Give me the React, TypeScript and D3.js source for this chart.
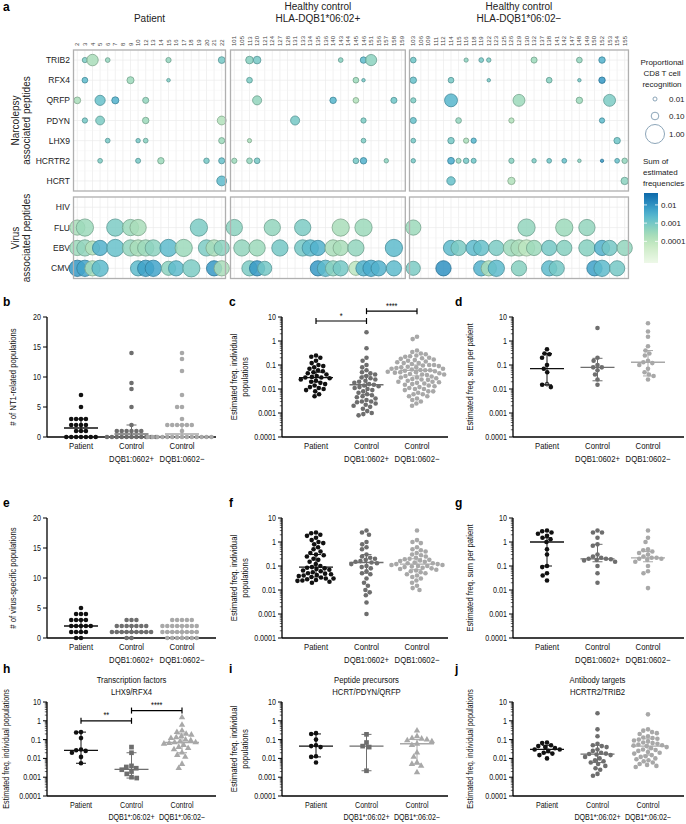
import React from 'react';
import * as d3 from 'd3';

const FONT = "'Liberation Sans', Arial, Helvetica, sans-serif";

// ---------- panel a data ----------
const peptidesNT1 = ['TRIB2', 'RFX4', 'QRFP', 'PDYN', 'LHX9', 'HCRTR2', 'HCRT'];
const peptidesVirus = ['HIV', 'FLU', 'EBV', 'CMV'];
const patientIds = ['2', '3', '4', '5', '6', '7', '8', '9', '10', '12', '13', '14', '15', '16', '17', '18', '19', '20', '21', '22'];
const hcPosIds = ['101', '105', '113', '120', '121', '124', '127', '128', '131', '133', '134', '135', '136', '140', '143', '144', '145', '146', '151', '156', '157', '158', '159'];
const hcNegIds = ['103', '106', '109', '111', '112', '114', '115', '116', '118', '119', '122', '123', '125', '126', '129', '130', '132', '137', '138', '141', '142', '147', '148', '149', '150', '152', '153', '154', '155'];

type Bubble = [string, string, number, number]; // [subject id, peptide, proportional recognition, sum of estimated frequencies]
const patientBubbles: Bubble[] = [
  ['3', 'TRIB2', 0.03, 8e-4], ['4', 'TRIB2', 0.3, 2e-4], ['6', 'TRIB2', 0.02, 4e-4], ['15', 'TRIB2', 0.03, 4e-4], ['22', 'TRIB2', 0.07, 1e-3],
  ['3', 'RFX4', 0.04, 2e-3], ['9', 'RFX4', 0.08, 3e-4], ['15', 'RFX4', 0.005, 8e-4],
  ['2', 'QRFP', 0.07, 2e-4], ['5', 'QRFP', 0.22, 1.5e-3], ['7', 'QRFP', 0.08, 3e-3], ['12', 'QRFP', 0.05, 4e-4],
  ['3', 'PDYN', 0.03, 1e-3], ['5', 'PDYN', 0.15, 8e-4], ['12', 'PDYN', 0.06, 3e-4], ['22', 'PDYN', 0.15, 1.5e-4],
  ['6', 'LHX9', 0.02, 1e-3], ['10', 'LHX9', 0.015, 1e-3], ['12', 'LHX9', 0.02, 6e-4], ['22', 'LHX9', 0.05, 3e-4],
  ['5', 'HCRTR2', 0.02, 8e-4], ['10', 'HCRTR2', 0.025, 1e-3], ['14', 'HCRTR2', 0.06, 3e-4], ['20', 'HCRTR2', 0.035, 1e-3], ['22', 'HCRTR2', 0.05, 1.5e-3],
  ['22', 'HCRT', 0.2, 2e-3],
  ['2', 'FLU', 0.6, 2e-4], ['3', 'FLU', 0.8, 3e-4], ['7', 'FLU', 0.8, 8e-4], ['9', 'FLU', 0.7, 3e-4], ['10', 'FLU', 0.7, 2e-4], ['19', 'FLU', 0.8, 8e-4],
  ['2', 'EBV', 0.6, 3e-4], ['3', 'EBV', 0.7, 4e-4], ['4', 'EBV', 0.5, 1.5e-4], ['5', 'EBV', 0.6, 3e-3], ['7', 'EBV', 0.8, 1.5e-3], ['9', 'EBV', 0.7, 4e-4],
  ['10', 'EBV', 0.7, 2e-4], ['12', 'EBV', 0.7, 3e-4], ['13', 'EBV', 0.7, 5e-4], ['15', 'EBV', 0.8, 2e-3], ['17', 'EBV', 0.8, 3e-4], ['20', 'EBV', 0.7, 8e-4], ['21', 'EBV', 0.7, 2e-4], ['22', 'EBV', 0.6, 5e-4],
  ['2', 'CMV', 0.7, 8e-3], ['3', 'CMV', 0.7, 5e-3], ['4', 'CMV', 0.6, 2e-4], ['5', 'CMV', 0.7, 2e-3], ['10', 'CMV', 0.6, 2e-3], ['12', 'CMV', 0.7, 6e-3],
  ['13', 'CMV', 0.7, 5e-3], ['15', 'CMV', 0.5, 5e-4], ['16', 'CMV', 0.6, 2e-3], ['18', 'CMV', 0.8, 8e-4], ['21', 'CMV', 0.6, 8e-3], ['22', 'CMV', 0.6, 2e-4],
];
const hcPosBubbles: Bubble[] = [
  ['113', 'TRIB2', 0.1, 6e-4], ['120', 'TRIB2', 0.1, 1e-3], ['143', 'TRIB2', 0.02, 6e-4], ['146', 'TRIB2', 0.06, 2e-3], ['151', 'TRIB2', 0.28, 5e-4],
  ['113', 'RFX4', 0.04, 8e-4], ['145', 'RFX4', 0.04, 3e-4], ['146', 'RFX4', 0.004, 1e-3],
  ['120', 'QRFP', 0.16, 4e-4], ['140', 'QRFP', 0.06, 2.5e-3], ['145', 'QRFP', 0.04, 1.5e-4], ['158', 'QRFP', 0.05, 1.2e-3],
  ['131', 'PDYN', 0.16, 1e-3], ['146', 'PDYN', 0.03, 8e-4],
  ['113', 'LHX9', 0.012, 2e-4], ['146', 'LHX9', 0.02, 8e-4],
  ['101', 'HCRTR2', 0.03, 3e-4], ['113', 'HCRTR2', 0.04, 4e-4], ['120', 'HCRTR2', 0.04, 1e-3], ['145', 'HCRTR2', 0.04, 1e-3], ['146', 'HCRTR2', 0.06, 3e-3], ['157', 'HCRTR2', 0.015, 5e-4],
  ['101', 'FLU', 0.7, 5e-4], ['124', 'FLU', 0.7, 4e-4], ['133', 'FLU', 0.7, 8e-4], ['143', 'FLU', 0.8, 2e-4], ['146', 'FLU', 0.8, 3e-4],
  ['105', 'EBV', 0.7, 4e-4], ['120', 'EBV', 0.7, 3e-4], ['127', 'EBV', 0.7, 1e-3], ['133', 'EBV', 0.7, 1e-3], ['134', 'EBV', 0.7, 2e-3], ['135', 'EBV', 0.6, 3e-3],
  ['140', 'EBV', 0.7, 2e-4], ['143', 'EBV', 0.6, 2e-4], ['145', 'EBV', 0.7, 4e-4], ['158', 'EBV', 0.8, 2e-3],
  ['113', 'CMV', 0.6, 8e-4], ['120', 'CMV', 0.6, 8e-3], ['121', 'CMV', 0.5, 1e-3], ['135', 'CMV', 0.6, 8e-3], ['136', 'CMV', 0.7, 2e-3], ['140', 'CMV', 0.6, 5e-4],
  ['143', 'CMV', 0.6, 1e-3], ['145', 'CMV', 0.5, 1e-4], ['146', 'CMV', 0.6, 3e-3], ['151', 'CMV', 0.7, 4e-3], ['156', 'CMV', 0.6, 3e-3], ['158', 'CMV', 0.6, 2e-3],
];
const hcNegBubbles: Bubble[] = [
  ['103', 'TRIB2', 0.04, 1.2e-3], ['116', 'TRIB2', 0.012, 5e-4], ['119', 'TRIB2', 0.02, 1e-3], ['122', 'TRIB2', 0.015, 8e-4], ['132', 'TRIB2', 0.05, 3e-4], ['148', 'TRIB2', 0.04, 4e-4], ['152', 'TRIB2', 0.06, 3e-3],
  ['103', 'RFX4', 0.06, 1.5e-3], ['114', 'RFX4', 0.04, 1e-3], ['122', 'RFX4', 0.004, 1e-3], ['138', 'RFX4', 0.04, 6e-4], ['148', 'RFX4', 0.004, 1e-3], ['152', 'RFX4', 0.06, 8e-3],
  ['103', 'QRFP', 0.03, 8e-4], ['114', 'QRFP', 0.4, 2.5e-3], ['129', 'QRFP', 0.33, 3e-4], ['148', 'QRFP', 0.06, 3e-4], ['153', 'QRFP', 0.33, 8e-4],
  ['103', 'PDYN', 0.05, 1.5e-3], ['115', 'PDYN', 0.04, 4e-4], ['126', 'PDYN', 0.03, 1.5e-4], ['152', 'PDYN', 0.03, 2e-3],
  ['103', 'LHX9', 0.02, 1e-3], ['114', 'LHX9', 0.06, 1e-3], ['116', 'LHX9', 0.03, 2e-4], ['118', 'LHX9', 0.03, 2.5e-3], ['154', 'LHX9', 0.06, 1.2e-3],
  ['103', 'HCRTR2', 0.015, 1e-3], ['114', 'HCRTR2', 0.07, 4e-3], ['115', 'HCRTR2', 0.025, 4e-4], ['116', 'HCRTR2', 0.035, 1e-3], ['118', 'HCRTR2', 0.025, 1.2e-3],
  ['126', 'HCRTR2', 0.03, 6e-4], ['132', 'HCRTR2', 0.015, 8e-4], ['138', 'HCRTR2', 0.02, 1.2e-3], ['142', 'HCRTR2', 0.02, 1.5e-3], ['148', 'HCRTR2', 0.005, 6e-4],
  ['152', 'HCRTR2', 0.003, 8e-3], ['154', 'HCRTR2', 0.02, 1.5e-3], ['155', 'HCRTR2', 0.035, 4e-4],
  ['114', 'HCRT', 0.13, 1.5e-3], ['126', 'HCRT', 0.09, 1.5e-4], ['155', 'HCRT', 0.09, 5e-4],
  ['103', 'FLU', 0.6, 3e-4], ['130', 'FLU', 0.8, 4e-4], ['142', 'FLU', 0.8, 3e-4], ['149', 'FLU', 0.7, 4e-4],
  ['114', 'EBV', 0.6, 2e-3], ['115', 'EBV', 0.6, 8e-4], ['118', 'EBV', 0.6, 2e-3], ['119', 'EBV', 0.6, 1.5e-3], ['123', 'EBV', 0.6, 8e-4], ['126', 'EBV', 0.7, 3e-4],
  ['129', 'EBV', 0.7, 2e-4], ['130', 'EBV', 0.7, 1e-4], ['132', 'EBV', 0.6, 3e-4], ['138', 'EBV', 0.6, 1e-3], ['142', 'EBV', 0.6, 6e-4], ['149', 'EBV', 0.7, 6e-4],
  ['152', 'EBV', 0.6, 3e-3], ['153', 'EBV', 0.6, 1e-3], ['155', 'EBV', 0.6, 4e-4],
  ['103', 'CMV', 0.5, 8e-4], ['112', 'CMV', 0.6, 1e-2], ['119', 'CMV', 0.6, 3e-3], ['122', 'CMV', 0.6, 2e-4], ['123', 'CMV', 0.7, 2e-3], ['129', 'CMV', 0.6, 6e-4],
  ['138', 'CMV', 0.6, 2e-3], ['141', 'CMV', 0.6, 1e-3], ['150', 'CMV', 0.6, 6e-3], ['152', 'CMV', 0.7, 2e-3], ['154', 'CMV', 0.6, 1e-3],
];
const sizeLegend = [0.01, 0.1, 1.0];
const colorLegend = [0.01, 0.001, 0.0001];

// ---------- panels b-j data ----------
const groups = ['Patient', 'Control+', 'Control-'];
const catLabelsA = [['Patient'], ['Control', 'DQB1:0602+'], ['Control', 'DQB1:0602\u2212']];
const catLabelsB = [['Patient'], ['Control', 'DQB1*:06:02+'], ['Control', 'DQB1*:06:02\u2212']];
const countTicks = [0, 5, 10, 15, 20];
const logTicks = [0.0001, 0.001, 0.01, 0.1, 1, 10];

const bPatient = [7, 5, 3, 3, 3, 3, 2, 2, 2, 2, 1, 1, 1, 0, 0, 0, 0, 0, 0, 0];
const bCtrlPos = [14, 9, 8, 5, 2, 1, 1, 1, 1, 1, 1, 0, 0, 0, 0, 0, 0, 0, 0, 0, 0, 0];
const bCtrlNeg = [14, 13, 11, 7, 5, 5, 3, 2, 2, 2, 2, 2, 2, 1, 0, 0, 0, 0, 0, 0, 0, 0, 0, 0, 0, 0, 0, 0];
const bSummary = [[1.5, 1, 3], [0.5, 0, 2], [0.5, 0, 2]];

const cPatient = [0.25, 0.22, 0.2, 0.15, 0.12, 0.1, 0.09, 0.08, 0.07, 0.06, 0.055, 0.05, 0.045, 0.04, 0.035, 0.032, 0.03, 0.03, 0.028, 0.025, 0.022, 0.02, 0.018, 0.016, 0.014, 0.012, 0.011, 0.01, 0.009, 0.008, 0.006, 0.005];
const cCtrlPos = [2.3, 0.5, 0.2, 0.15, 0.1, 0.08, 0.06, 0.05, 0.045, 0.04, 0.035, 0.03, 0.028, 0.025, 0.022, 0.02, 0.018, 0.016, 0.015, 0.014, 0.013, 0.012, 0.011, 0.01, 0.009, 0.008, 0.007, 0.006, 0.0055, 0.005, 0.0045, 0.004, 0.0035, 0.003, 0.003, 0.0028, 0.0025, 0.0022, 0.002, 0.0018, 0.0015, 0.0012, 0.001, 0.0009, 0.0008];
const cCtrlNeg = [1.5, 1.2, 0.4, 0.35, 0.3, 0.28, 0.25, 0.23, 0.22, 0.2, 0.19, 0.18, 0.17, 0.16, 0.15, 0.14, 0.13, 0.12, 0.12, 0.11, 0.1, 0.1, 0.095, 0.09, 0.085, 0.08, 0.08, 0.075, 0.07, 0.07, 0.065, 0.062, 0.06, 0.06, 0.058, 0.055, 0.052, 0.05, 0.05, 0.048, 0.045, 0.042, 0.04, 0.04, 0.038, 0.035, 0.033, 0.03, 0.03, 0.028, 0.026, 0.025, 0.024, 0.022, 0.02, 0.02, 0.019, 0.018, 0.017, 0.016, 0.015, 0.014, 0.013, 0.012, 0.011, 0.01, 0.01, 0.009, 0.008, 0.008, 0.007, 0.006, 0.006, 0.005, 0.005, 0.004, 0.0035, 0.003, 0.0025, 0.002];
const cSummary = [[0.03, 0.02, 0.05], [0.015, 0.006, 0.035], [0.06, 0.035, 0.1]];

const dPatient = [0.45, 0.3, 0.28, 0.2, 0.1, 0.07, 0.05, 0.016, 0.015, 0.012];
const dPatientOpen = [0.016];
const dCtrlPos = [3.5, 0.2, 0.15, 0.1, 0.08, 0.08, 0.06, 0.04, 0.025, 0.015];
const dCtrlNeg = [5.5, 2.5, 1.5, 0.6, 0.4, 0.3, 0.25, 0.15, 0.13, 0.12, 0.1, 0.07, 0.05, 0.04, 0.035, 0.025];
const dSummary = [[0.07, 0.015, 0.3], [0.08, 0.022, 0.19], [0.13, 0.035, 0.4]];

const ePatient = [5, 4, 4, 4, 3, 3, 3, 3, 2, 2, 2, 2, 2, 1, 1, 1, 1, 0, 0];
const eCtrlPos = [3, 3, 3, 2, 2, 2, 2, 2, 2, 2, 1, 1, 1, 1, 1, 1, 1, 1, 1, 0, 0];
const eCtrlNeg = [3, 3, 3, 3, 3, 2, 2, 2, 2, 2, 2, 2, 2, 1, 1, 1, 1, 1, 1, 1, 1, 0, 0, 0, 0, 0, 0, 0];
const eSummary = [[2, 1, 3], [1, 1, 2], [1, 0, 2]];

const fPatient = [2.5, 2.3, 2.0, 1.8, 1.5, 1.2, 1.0, 0.9, 0.8, 0.6, 0.5, 0.4, 0.35, 0.3, 0.28, 0.25, 0.2, 0.18, 0.15, 0.12, 0.1, 0.09, 0.085, 0.08, 0.075, 0.07, 0.065, 0.06, 0.055, 0.05, 0.048, 0.045, 0.042, 0.04, 0.038, 0.035, 0.033, 0.03, 0.03, 0.028, 0.026, 0.025, 0.024, 0.022, 0.02];
const fCtrlPos = [3.0, 2.5, 2.0, 1.0, 0.8, 0.6, 0.5, 0.3, 0.25, 0.22, 0.2, 0.18, 0.16, 0.15, 0.14, 0.13, 0.12, 0.1, 0.09, 0.08, 0.06, 0.05, 0.045, 0.03, 0.02, 0.015, 0.01, 0.008, 0.006, 0.003, 0.001];
const fCtrlNeg = [3.0, 1.2, 1.0, 0.9, 0.6, 0.5, 0.45, 0.4, 0.35, 0.3, 0.28, 0.25, 0.22, 0.2, 0.19, 0.18, 0.17, 0.16, 0.15, 0.14, 0.13, 0.13, 0.12, 0.12, 0.11, 0.11, 0.1, 0.1, 0.095, 0.09, 0.085, 0.08, 0.075, 0.07, 0.065, 0.06, 0.055, 0.05, 0.045, 0.04, 0.035, 0.03, 0.025, 0.02, 0.015, 0.012, 0.01];
const fSummary = [[0.09, 0.035, 0.3], [0.14, 0.05, 0.3], [0.12, 0.07, 0.2]];

const gPatient = [3, 2.8, 2.5, 2.2, 1.8, 1.5, 1.3, 1.0, 0.5, 0.3, 0.1, 0.09, 0.05, 0.04, 0.025];
const gCtrlPos = [3, 2.5, 2.5, 1.5, 0.8, 0.7, 0.3, 0.25, 0.22, 0.2, 0.2, 0.19, 0.18, 0.17, 0.15, 0.1, 0.05, 0.02];
const gCtrlNeg = [3, 1.5, 1.0, 0.5, 0.45, 0.4, 0.35, 0.3, 0.25, 0.22, 0.22, 0.2, 0.2, 0.18, 0.15, 0.1, 0.06, 0.05, 0.012];
const gSummary = [[1.0, 0.1, 1.5], [0.2, 0.15, 0.8], [0.22, 0.15, 0.4]];

const hPatient = [0.25, 0.24, 0.12, 0.03, 0.027, 0.025, 0.02, 0.012, 0.0055];
const hCtrlPos = [0.04, 0.02, 0.004, 0.0035, 0.003, 0.0025, 0.002, 0.0015, 0.001, 0.0009];
const hCtrlNeg = [1.5, 0.6, 0.3, 0.25, 0.2, 0.18, 0.15, 0.13, 0.12, 0.1, 0.09, 0.08, 0.07, 0.07, 0.065, 0.06, 0.05, 0.04, 0.035, 0.03, 0.02, 0.015, 0.012, 0.005, 0.003];
const hSummary = [[0.027, 0.0055, 0.25], [0.0026, 0.0009, 0.02], [0.07, 0.02, 0.2]];

const iPatient = [0.22, 0.2, 0.1, 0.05, 0.045, 0.04, 0.013, 0.012, 0.006];
const iCtrlPos = [0.19, 0.07, 0.045, 0.04, 0.0022];
const iCtrlNeg = [0.3, 0.15, 0.12, 0.11, 0.1, 0.09, 0.08, 0.06, 0.05, 0.02, 0.012, 0.006, 0.005, 0.004, 0.0018];
const iSummary = [[0.045, 0.012, 0.2], [0.045, 0.0022, 0.19], [0.06, 0.005, 0.1]];

const jPatient = [0.07, 0.065, 0.05, 0.045, 0.04, 0.035, 0.03, 0.03, 0.025, 0.02, 0.018, 0.015, 0.01];
const jCtrlPos = [2.5, 0.35, 0.15, 0.06, 0.05, 0.045, 0.04, 0.03, 0.025, 0.02, 0.018, 0.017, 0.016, 0.015, 0.012, 0.01, 0.008, 0.007, 0.006, 0.005, 0.004, 0.003, 0.0025, 0.0015, 0.0012];
const jCtrlNeg = [2.2, 0.35, 0.3, 0.25, 0.22, 0.2, 0.15, 0.13, 0.12, 0.11, 0.1, 0.09, 0.08, 0.07, 0.065, 0.06, 0.055, 0.05, 0.048, 0.045, 0.04, 0.035, 0.03, 0.028, 0.025, 0.022, 0.02, 0.018, 0.015, 0.013, 0.012, 0.01, 0.009, 0.008, 0.007, 0.006, 0.005, 0.0045, 0.004, 0.0035];
const jSummary = [[0.03, 0.02, 0.05], [0.017, 0.006, 0.05], [0.045, 0.015, 0.11]];

const groupColors = ['#111111', '#6e6e6e', '#a8a8a8'];

// ---------- helpers ----------
function swarm(values: number[], y: (v: number) => number, cx: number, r: number) {
  const pts = values.map((v, i) => ({ v, i, y: y(v) })).sort((a, b) => a.y - b.y);
  const placed: { x: number; y: number; v: number }[] = [];
  const d = 2 * r + 0.3;
  for (const p of pts) {
    const cands = [0];
    for (const q of placed) {
      const dy = p.y - q.y;
      if (Math.abs(dy) < d) {
        const dx = Math.sqrt(d * d - dy * dy);
        cands.push(q.x - cx + dx, q.x - cx - dx);
      }
    }
    cands.sort((a, b) => Math.abs(a) - Math.abs(b) || a - b);
    let best = 0;
    for (const c of cands) {
      const x = cx + c;
      if (placed.every((q) => (q.x - x) ** 2 + (q.y - p.y) ** 2 >= d * d - 0.05)) { best = c; break; }
    }
    placed.push({ x: cx + best, y: p.y, v: p.v });
  }
  return placed;
}

// condensed text (the reference uses a narrow sans face)
function NT({ x, y, rotate = 0, anchor = 'start', size = 8, fill = '#111', children }: any) {
  return (
    <text transform={`translate(${x},${y})${rotate ? ` rotate(${rotate})` : ''} scale(0.86,1)`} textAnchor={anchor} fontSize={size} fill={fill}>{children}</text>
  );
}

type PanelSpec = {
  key: string;
  letter: string;
  letterX: number;
  ax: number; end: number; yTop: number; yBot: number; labY: number; labGap: number; labSize: number;
  log: boolean;
  data: number[][];
  summary: number[][];
  catLabels: string[][];
  yTitle: string[];
  yTitleX: number;
  yTitleSize?: number;
  shapes?: string[];
  open?: number[];
  title?: string[];
  brackets?: { a: number; b: number; v: number; label: string }[];
};

function symbolPath(shape: string, size: number) {
  const t = shape === 'square' ? d3.symbolSquare : shape === 'triangle' ? d3.symbolTriangle : d3.symbolCircle;
  return d3.symbol(t, size)()!;
}

function DotPanel({ s }: { s: PanelSpec }) {
  const y: any = s.log
    ? d3.scaleLog().domain([1e-4, 10]).range([s.yBot, s.yTop])
    : d3.scaleLinear().domain([0, 20]).range([s.yBot, s.yTop]);
  const x = d3.scalePoint<string>().domain(groups).range([s.ax + 34, s.ax + 135]);
  const ticks = s.log ? logTicks : countTicks;
  const minor: number[] = [];
  if (s.log) {
    for (let e = -4; e < 1; e++) for (let k = 2; k <= 9; k++) minor.push(k * Math.pow(10, e));
  }
  const r = 2.3;
  const fmt = (v: number) => (s.log ? (v >= 1 ? String(v) : v.toFixed(Math.round(-Math.log10(v)))) : String(v));
  const midY = (s.yTop + s.yBot) / 2;
  return (
    <g>
      <text x={s.letterX} y={s.title ? s.yTop - 29 : s.yTop - 11} fontFamily={FONT} fontWeight="bold" fontSize={12}>{s.letter}</text>
      {s.title && s.title.map((t, i) => (
        <NT key={i} x={x('Control+')!} y={s.yTop - 19 + i * 12} anchor="middle" size={9}>{t}</NT>
      ))}
      {s.yTitle.map((t, i) => (
        <NT key={i} x={s.yTitleX + i * 11} y={midY} rotate={-90} anchor="middle" size={s.yTitleSize || 9}>{t}</NT>
      ))}
      {/* axes */}
      <line x1={s.ax} x2={s.ax} y1={s.yTop} y2={s.yBot} stroke="#000" strokeWidth={1.3} />
      <line x1={s.ax} x2={s.end} y1={s.yBot} y2={s.yBot} stroke="#000" strokeWidth={1.3} />
      {ticks.map((t) => (
        <g key={t}>
          <line x1={s.ax - 4} x2={s.ax} y1={y(t)} y2={y(t)} stroke="#000" strokeWidth={1} />
          <NT x={s.ax - 6} y={y(t) + 3} anchor="end" size={8.3}>{fmt(t)}</NT>
        </g>
      ))}
      {minor.map((t, i) => (
        <line key={i} x1={s.ax - 2.2} x2={s.ax} y1={y(t)} y2={y(t)} stroke="#000" strokeWidth={0.6} />
      ))}
      {s.catLabels.map((lines, gi) => lines.map((t, li) => (
        <NT key={gi + '-' + li} x={x(groups[gi])!} y={s.labY + li * s.labGap} anchor="middle" size={s.labSize}>{t}</NT>
      )))}
      {/* points */}
      {s.data.map((vals, gi) => {
        const shape = s.shapes ? s.shapes[gi] : 'circle';
        const pts = swarm(vals, y, x(groups[gi])!, shape !== 'circle' ? 2.5 : r);
        return pts.map((p, pi) => {
          const isOpen = gi === 0 && s.open && s.open.includes(p.v);
          if (shape === 'circle') {
            return <circle key={gi + '_' + pi} cx={p.x} cy={p.y} r={isOpen ? r - 0.4 : r} fill={isOpen ? '#fff' : groupColors[gi]} stroke={isOpen ? groupColors[gi] : 'none'} strokeWidth={0.9} />;
          }
          return <path key={gi + '_' + pi} d={symbolPath(shape, shape === 'square' ? 22 : 18)} transform={`translate(${p.x},${p.y})`} fill={groupColors[gi]} />;
        });
      })}
      {/* median & error bars */}
      {s.summary.map(([med, lo, hi], gi) => {
        const cx = x(groups[gi])!;
        const c = groupColors[gi];
        return (
          <g key={'s' + gi} stroke={c} strokeWidth={1.3}>
            <line x1={cx - 17} x2={cx + 17} y1={y(med)} y2={y(med)} />
            <line x1={cx} x2={cx} y1={y(lo)} y2={y(hi)} strokeWidth={1} />
            <line x1={cx - 5} x2={cx + 5} y1={y(lo)} y2={y(lo)} strokeWidth={1} />
            <line x1={cx - 5} x2={cx + 5} y1={y(hi)} y2={y(hi)} strokeWidth={1} />
          </g>
        );
      })}
      {s.brackets && s.brackets.map((b, i) => {
        const x1 = x(groups[b.a])!, x2 = x(groups[b.b])!, yy = y(b.v);
        return (
          <g key={'b' + i}>
            <line x1={x1} x2={x2} y1={yy} y2={yy} stroke="#000" strokeWidth={1.2} />
            <line x1={x1} x2={x1} y1={yy - 3} y2={yy + 3} stroke="#000" strokeWidth={1.2} />
            <line x1={x2} x2={x2} y1={yy - 3} y2={yy + 3} stroke="#000" strokeWidth={1.2} />
            <NT x={(x1 + x2) / 2} y={yy - 2.5} anchor="middle" size={8.5}>{b.label}</NT>
          </g>
        );
      })}
    </g>
  );
}

// ---------- panel a ----------
const recogR = d3.scaleSqrt().domain([0, 1]).range([1.2, 9.5]);
const freqT = d3.scaleLog().domain([6.5e-6, 0.045]).range([0.05, 0.87]).clamp(true);
const freqColor = (v: number) => d3.interpolateGnBu(freqT(v));

function BubblePanel({ ids, bubbles, x0, step, header }: { ids: string[]; bubbles: Bubble[]; x0: number; step: number; header: string[] }) {
  const x = d3.scaleBand<string>().domain(ids).range([x0, x0 + ids.length * step]);
  const yN = d3.scaleBand<string>().domain(peptidesNT1).range([50, 191]);
  const yV = d3.scaleBand<string>().domain(peptidesVirus).range([197, 278.5]);
  const cx = (id: string) => x(id)! + x.bandwidth() / 2;
  const xEnd = x0 + ids.length * step;
  const mid = (x0 + xEnd) / 2;
  const frames = [
    { y: yN, dom: peptidesNT1 },
    { y: yV, dom: peptidesVirus },
  ];
  return (
    <g>
      {header.map((h, i) => (
        <text key={i} x={mid} y={header.length === 1 ? 22 : 10 + i * 12} fontSize={10} textAnchor="middle" fill="#222">{h}</text>
      ))}
      {ids.map((id) => (
        <text key={id} transform={`translate(${cx(id) + 2},46) rotate(-90)`} fontSize={6} fill="#444">{id}</text>
      ))}
      {frames.map((f, fi) => {
        const yr = f.y.range();
        return (
          <g key={fi}>
            <rect x={x0} y={yr[0]} width={xEnd - x0} height={yr[1] - yr[0]} fill="#fff" />
            {ids.map((id) => (
              <line key={id} x1={cx(id)} x2={cx(id)} y1={yr[0]} y2={yr[1]} stroke="#ebebeb" strokeWidth={0.7} />
            ))}
            {f.dom.map((p) => (
              <line key={p} x1={x0} x2={xEnd} y1={f.y(p)! + f.y.bandwidth() / 2} y2={f.y(p)! + f.y.bandwidth() / 2} stroke="#ebebeb" strokeWidth={0.7} />
            ))}
            {f.dom.map((p) => (
              <line key={p + 'm'} x1={x0} x2={xEnd} y1={f.y(p)!} y2={f.y(p)!} stroke="#f4f4f4" strokeWidth={0.5} />
            ))}
          </g>
        );
      })}
      {bubbles.map(([id, pep, rec, fr], i) => {
        const isV = peptidesVirus.includes(pep);
        const yy = isV ? yV(pep)! + yV.bandwidth() / 2 : yN(pep)! + yN.bandwidth() / 2;
        const fill = freqColor(fr);
        return (
          <circle key={i} cx={cx(id)} cy={yy} r={recogR(rec)} fill={fill} fillOpacity={0.85}
            stroke={d3.color(fill)!.darker(0.8).formatHex()} strokeWidth={0.8} />
        );
      })}
      {frames.map((f, fi) => {
        const yr = f.y.range();
        return <rect key={'fr' + fi} x={x0} y={yr[0]} width={xEnd - x0} height={yr[1] - yr[0]} fill="none" stroke="#b0b0b0" strokeWidth={1.3} />;
      })}
    </g>
  );
}

function PanelA() {
  const yN = d3.scaleBand<string>().domain(peptidesNT1).range([50, 191]);
  const yV = d3.scaleBand<string>().domain(peptidesVirus).range([197, 278.5]);
  const legendY = [99, 116, 134];
  const cbTop = 193, cbBot = 263;
  const cbScale = d3.scaleLog().domain([0.045, 6.5e-6]).range([cbTop, cbBot]);
  const stops = d3.range(0, 21).map((i) => i / 20);
  return (
    <g fontFamily={FONT}>
      <text x={3} y={11} fontWeight="bold" fontSize={12}>a</text>
      {peptidesNT1.map((p) => (
        <text key={p} x={70} y={yN(p)! + yN.bandwidth() / 2 + 3} fontSize={8.5} textAnchor="end" fill="#222">{p}</text>
      ))}
      {peptidesVirus.map((p) => (
        <text key={p} x={70} y={yV(p)! + yV.bandwidth() / 2 + 3} fontSize={8.5} textAnchor="end" fill="#222">{p}</text>
      ))}
      <text transform="translate(19,120.5) rotate(-90)" fontSize={10} textAnchor="middle" fill="#222">Narcolepsy</text>
      <text transform="translate(30,120.5) rotate(-90)" fontSize={10} textAnchor="middle" fill="#222">associated peptides</text>
      <text transform="translate(19,238) rotate(-90)" fontSize={10} textAnchor="middle" fill="#222">Virus</text>
      <text transform="translate(30,238) rotate(-90)" fontSize={10} textAnchor="middle" fill="#222">associated peptides</text>
      <BubblePanel ids={patientIds} bubbles={patientBubbles} x0={73.5} step={7.6} header={['Patient']} />
      <BubblePanel ids={hcPosIds} bubbles={hcPosBubbles} x0={230.5} step={7.6} header={['Healthy control', 'HLA-DQB1*06:02+']} />
      <BubblePanel ids={hcNegIds} bubbles={hcNegBubbles} x0={409.5} step={7.55} header={['Healthy control', 'HLA-DQB1*06:02\u2212']} />
      {/* size legend */}
      {['Proportional', 'CD8 T cell', 'recognition'].map((t, i) => (
        <text key={t} x={662} y={65 + i * 11} fontSize={8} textAnchor="middle" fill="#222">{t}</text>
      ))}
      {sizeLegend.map((v, i) => (
        <g key={v}>
          <circle cx={655} cy={legendY[i]} r={recogR(v)} fill="#fff" stroke="#7f9bb0" strokeWidth={0.9} />
          <text x={669} y={legendY[i] + 3} fontSize={8} fill="#222">{v.toFixed(2)}</text>
        </g>
      ))}
      {['Sum of', 'estimated', 'frequencies'].map((t, i) => (
        <text key={t} x={643} y={164 + i * 11} fontSize={8} fill="#222">{t}</text>
      ))}
      <defs>
        <linearGradient id="cbgrad" x1="0" x2="0" y1="0" y2="1">
          {stops.map((s) => {
            const v = cbScale.invert(cbTop + s * (cbBot - cbTop));
            return <stop key={s} offset={s} stopColor={freqColor(v)} />;
          })}
        </linearGradient>
      </defs>
      <rect x={644} y={cbTop} width={14} height={cbBot - cbTop} fill="url(#cbgrad)" />
      {colorLegend.map((v) => (
        <g key={v}>
          <line x1={644} x2={647} y1={cbScale(v)} y2={cbScale(v)} stroke="#fff" strokeWidth={0.8} />
          <line x1={655} x2={658} y1={cbScale(v)} y2={cbScale(v)} stroke="#fff" strokeWidth={0.8} />
          <text x={661} y={cbScale(v) + 3} fontSize={8} fill="#222">{String(v)}</text>
        </g>
      ))}
    </g>
  );
}

const col = [{ ax: 47, end: 216, letterX: 3 }, { ax: 282, end: 448, letterX: 229 }, { ax: 513, end: 684, letterX: 455 }];
const row = [
  { yTop: 317, yBot: 437, labY: 449, labGap: 12.5, labSize: 9 },
  { yTop: 518, yBot: 638, labY: 650, labGap: 12.5, labSize: 9 },
  { yTop: 702, yBot: 796, labY: 808, labGap: 12, labSize: 8.3 },
];

const panels: PanelSpec[] = [
  { key: 'b', letter: 'b', ...col[0], ...row[0], log: false, data: [bPatient, bCtrlPos, bCtrlNeg], summary: bSummary, catLabels: catLabelsA, yTitle: ['# of NT1-related populations'], yTitleX: 16 },
  { key: 'c', letter: 'c', ...col[1], ...row[0], log: true, data: [cPatient, cCtrlPos, cCtrlNeg], summary: cSummary, catLabels: catLabelsA, yTitle: ['Estimated freq. individual', 'populations'], yTitleX: 237,
    brackets: [{ a: 0, b: 1, v: 6.8, label: '*' }, { a: 1, b: 2, v: 17.5, label: '****' }] },
  { key: 'd', letter: 'd', ...col[2], ...row[0], log: true, data: [dPatient, dCtrlPos, dCtrlNeg], summary: dSummary, catLabels: catLabelsA, yTitle: ['Estimated freq. sum per patient'], yTitleX: 473, open: dPatientOpen },
  { key: 'e', letter: 'e', ...col[0], ...row[1], log: false, data: [ePatient, eCtrlPos, eCtrlNeg], summary: eSummary, catLabels: catLabelsA, yTitle: ['# of virus-specific populations'], yTitleX: 16 },
  { key: 'f', letter: 'f', ...col[1], ...row[1], log: true, data: [fPatient, fCtrlPos, fCtrlNeg], summary: fSummary, catLabels: catLabelsA, yTitle: ['Estimated freq. individual', 'populations'], yTitleX: 237 },
  { key: 'g', letter: 'g', ...col[2], ...row[1], log: true, data: [gPatient, gCtrlPos, gCtrlNeg], summary: gSummary, catLabels: catLabelsA, yTitle: ['Estimated freq. sum per patient'], yTitleX: 473 },
  { key: 'h', letter: 'h', ...col[0], ...row[2], log: true, data: [hPatient, hCtrlPos, hCtrlNeg], summary: hSummary, catLabels: catLabelsB, yTitle: ['Estimated freq. individual populations'], yTitleX: 9, yTitleSize: 8.4,
    shapes: ['circle', 'square', 'triangle'], title: ['Transcription factors', 'LHX9/RFX4'],
    brackets: [{ a: 0, b: 1, v: 1, label: '**' }, { a: 1, b: 2, v: 3.5, label: '****' }] },
  { key: 'i', letter: 'i', ...col[1], ...row[2], log: true, data: [iPatient, iCtrlPos, iCtrlNeg], summary: iSummary, catLabels: catLabelsB, yTitle: ['Estimated freq. individual', 'populations'], yTitleX: 237,
    shapes: ['circle', 'square', 'triangle'], title: ['Peptide precursors', 'HCRT/PDYN/QRFP'] },
  { key: 'j', letter: 'j', ...col[2], ...row[2], log: true, data: [jPatient, jCtrlPos, jCtrlNeg], summary: jSummary, catLabels: catLabelsB, yTitle: ['Estimated freq. individual populations'], yTitleX: 473, yTitleSize: 8.4,
    title: ['Antibody targets', 'HCRTR2/TRIB2'] },
];

export default function App() {
  return (
    <svg width={686} height={824} style={{ position: 'absolute', left: 0, top: 0, background: '#fff' }} fontFamily={FONT}>
      <rect width={686} height={824} fill="#fff" />
      <PanelA />
      {panels.map((p) => <DotPanel key={p.key} s={p} />)}
    </svg>
  );
}
